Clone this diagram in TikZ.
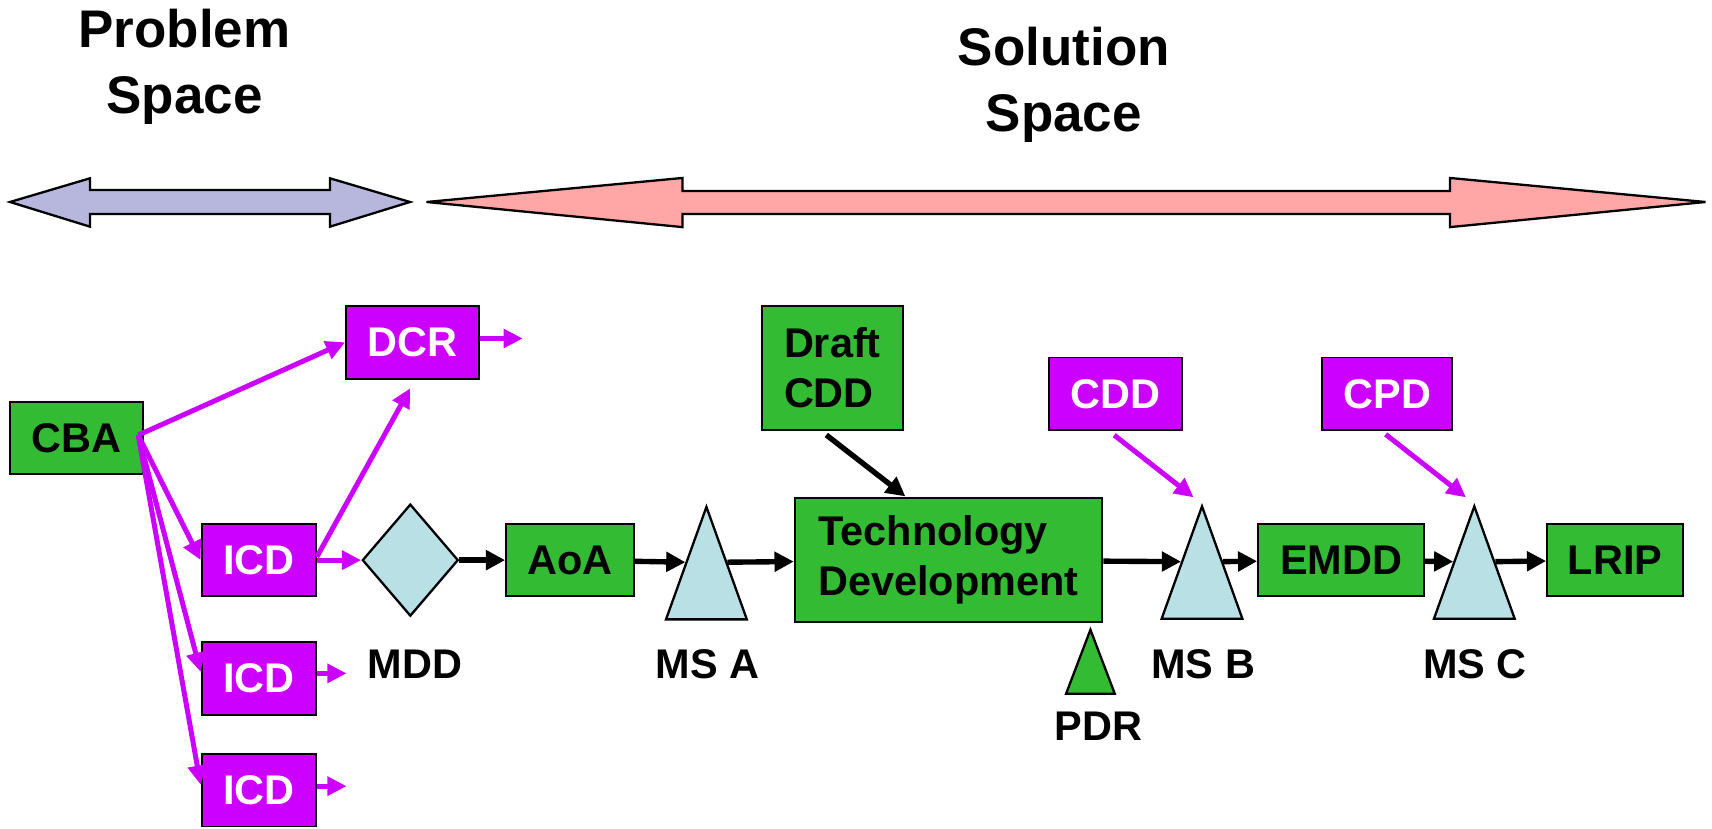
\documentclass[tikz,border=0pt]{standalone}
\usepackage{fontspec}
\setmainfont{Liberation Sans}
\usetikzlibrary{shapes.geometric, arrows.meta, positioning}
\definecolor{boxgreen}{HTML}{33BB33}
\definecolor{boxpurple}{HTML}{CC00FF}
\definecolor{msblue}{HTML}{B9E0E4}
\definecolor{probblue}{HTML}{B7B7DD}
\definecolor{solpink}{HTML}{FFA6A6}

\begin{document}
\begin{tikzpicture}[
  font=\bfseries\fontsize{10.8}{13}\selectfont,
  greenbox/.style={draw=black, line width=0.5pt, fill=boxgreen, minimum height=0.66cm,
                   inner sep=0pt, align=left},
  purplebox/.style={draw=black, line width=0.5pt, fill=boxpurple, text=white,
                    minimum width=1.215cm, minimum height=0.665cm, inner sep=0pt},
  milestone/.style={draw=black, line width=0.6pt, fill=msblue, isosceles triangle,
                    shape border rotate=90, isosceles triangle stretches,
                    minimum width=0.74cm, minimum height=1.03cm, inner sep=0pt, anchor=apex},
  decision/.style={draw=black, line width=0.6pt, fill=msblue, diamond,
                   minimum width=0.879cm, minimum height=1.026cm, inner sep=0pt},
  flow/.style={line width=1.4pt, -{Triangle[length=5pt,width=5pt]}},
  feed/.style={line width=1.3pt, boxpurple, -{Triangle[length=5pt,width=4.8pt]}},
  title/.style={font=\bfseries\fontsize{13.8}{17.3}\selectfont, align=center, anchor=base},
  mslabel/.style={anchor=base},
  bigarrow/.style={draw=black, line width=0.6pt},
]
\useasboundingbox (0,0) rectangle (15.68,-7.59);

\draw[bigarrow, fill=probblue] (0.092,-1.85) -- (0.824,-1.633) -- (0.824,-1.74) -- (3.022,-1.74)
  -- (3.022,-1.633) -- (3.755,-1.85) -- (3.022,-2.076) -- (3.022,-1.96) -- (0.824,-1.96)
  -- (0.824,-2.076) -- cycle;
\draw[bigarrow, fill=solpink] (3.907,-1.85) -- (6.25,-1.63) -- (6.25,-1.75) -- (13.28,-1.75)
  -- (13.28,-1.63) -- (15.62,-1.85) -- (13.28,-2.08) -- (13.28,-1.96) -- (6.25,-1.96)
  -- (6.25,-2.08) -- cycle;

\node[title] (probtitle) at (1.69,-1.04) {Problem\\Space};
\node[title] (soltitle) at (9.743,-1.206) {Solution\\Space};

\node[greenbox, minimum width=1.215cm] (cba) at (0.70,-4.015) {CBA};
\node[purplebox] (dcr) at (3.777,-3.135) {DCR};
\node[purplebox, minimum width=1.047cm] (icda) at (2.37,-5.13) {ICD};
\node[purplebox, minimum width=1.047cm] (icdb) at (2.37,-6.213) {ICD};
\node[purplebox, minimum width=1.047cm] (icdc) at (2.37,-7.237) {ICD};
\node[decision] (mdd) at (3.758,-5.13) {};
\node[mslabel] (mddlabel) at (3.80,-6.21) {MDD};
\node[greenbox, minimum width=1.17cm] (aoa) at (5.22,-5.13) {AoA};
\node[milestone] (msa) at (6.47,-4.615) {};
\node[mslabel] (msalabel) at (6.48,-6.21) {MS A};
\node[greenbox, minimum width=1.287cm, minimum height=1.136cm] (draft) at (7.624,-3.371) {Draft\\CDD};
\node[greenbox, minimum width=2.818cm, minimum height=1.13cm] (techdev) at (8.687,-5.13) {Technology\\Development};
\node[milestone, fill=boxgreen, minimum width=0.446cm, minimum height=0.586cm] (pdr) at (9.987,-5.74) {};
\node[mslabel] (pdrlabel) at (10.06,-6.778) {PDR};
\node[purplebox] (cdd) at (10.215,-3.607) {CDD};
\node[milestone] (msb) at (11.009,-4.61) {};
\node[mslabel] (msblabel) at (11.02,-6.21) {MS B};
\node[greenbox, minimum width=1.52cm] (emdd) at (12.283,-5.13) {EMDD};
\node[purplebox, minimum width=1.19cm] (cpd) at (12.707,-3.607) {CPD};
\node[milestone] (msc) at (13.503,-4.61) {};
\node[mslabel] (msclabel) at (13.51,-6.21) {MS C};
\node[greenbox, minimum width=1.248cm] (lrip) at (14.793,-5.13) {LRIP};

\coordinate (fan) at ([xshift=-0.05cm,yshift=0.03cm]cba.east);
\coordinate (dcrout) at ([xshift=0.394cm,yshift=0.035cm]dcr.east);
\coordinate (icdbout) at ([xshift=0.272cm,yshift=0.046cm]icdb.east);
\coordinate (icdcout) at ([xshift=0.272cm,yshift=0.037cm]icdc.east);

\draw[feed] (fan) -- (dcr.west);
\draw[feed] (fan) -- (icda.west);
\draw[feed] (fan) -- ([yshift=0.06cm]icdb.west);
\draw[feed] (fan) -- ([yshift=0.05cm]icdc.west);
\draw[feed] ([yshift=0.03cm]icda.east) -- ([xshift=-0.02cm,yshift=-0.08cm]dcr.south);
\draw[feed] (icda.east) -- (mdd);
\draw[feed] ([yshift=0.035cm]dcr.east) -- (dcrout);
\draw[feed] ([yshift=0.046cm]icdb.east) -- (icdbout);
\draw[feed] ([yshift=0.037cm]icdc.east) -- (icdcout);
\draw[feed] ([xshift=-0.01cm,yshift=-0.037cm]cdd.south) -- ([xshift=-0.077cm,yshift=0.055cm]msb.apex);
\draw[feed] ([xshift=-0.016cm,yshift=-0.03cm]cpd.south) -- ([xshift=-0.077cm,yshift=0.055cm]msc.apex);

\draw[flow] (mdd) -- (aoa);
\draw[flow] (aoa) -- (msa.left side);
\draw[flow] (msa.right side) -- (techdev);
\draw[flow] (techdev) -- (msb.left side);
\draw[flow] (msb.right side) -- (emdd);
\draw[flow] (emdd) -- (msc.left side);
\draw[flow] (msc.right side) -- (lrip);
\draw[flow] ([xshift=-0.056cm,yshift=-0.036cm]draft.south) -- ([xshift=-0.395cm,yshift=0.01cm]techdev.north);

\end{tikzpicture}
\end{document}
